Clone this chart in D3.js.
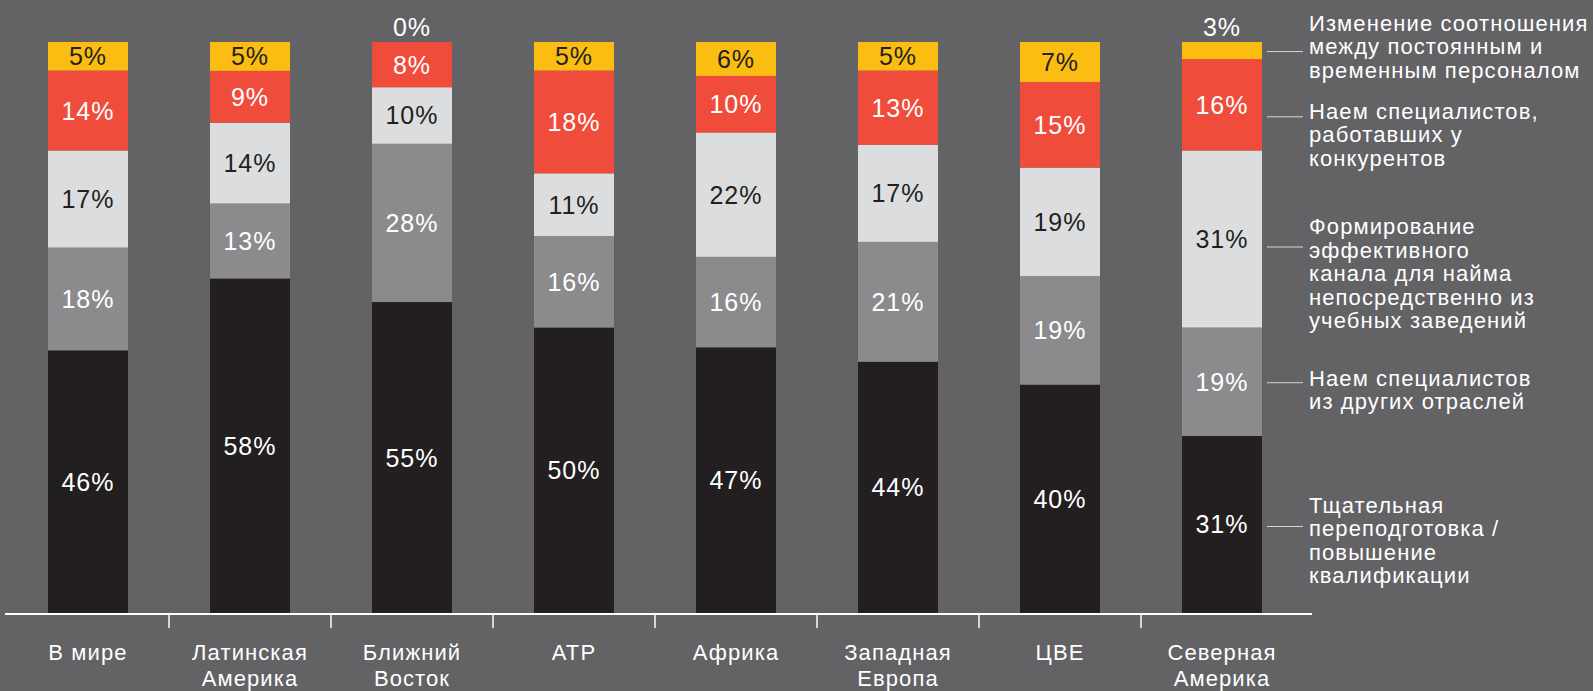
<!DOCTYPE html>
<html>
  <head>
    <meta charset="utf-8">
    <style>
      body { margin: 0; background: #636265; }
      svg { display: block; }
      text { font-family: "Liberation Sans", Arial, Helvetica, sans-serif; }
    </style>
    <script type="text/javascript" src="https://d3js.org/d3.v7.min.js"></script>
  </head>
  <body>
    <svg></svg>
    <script>
    // ---- data ----
    var regions = [
      ["В мире"],
      ["Латинская", "Америка"],
      ["Ближний", "Восток"],
      ["АТР"],
      ["Африка"],
      ["Западная", "Европа"],
      ["ЦВЕ"],
      ["Северная", "Америка"]
    ];

    // bottom to top
    var seriesKeys = ["retraining", "otherIndustries", "schools", "competitors", "staffRatio"];

    var retraining      = [46, 58, 55, 50, 47, 44, 40, 31];
    var otherIndustries = [18, 13, 28, 16, 16, 21, 19, 19];
    var schools         = [17, 14, 10, 11, 22, 17, 19, 31];
    var competitors     = [14,  9,  8, 18, 10, 13, 15, 16];
    var staffRatio      = [ 5,  5,  0,  5,  6,  5,  7,  3];

    var legendLabels = {
      staffRatio: ["Изменение соотношения", "между постоянным и", "временным персоналом"],
      competitors: ["Наем специалистов,", "работавших у", "конкурентов"],
      schools: ["Формирование", "эффективного", "канала для найма", "непосредственно из", "учебных заведений"],
      otherIndustries: ["Наем специалистов", "из других отраслей"],
      retraining: ["Тщательная", "переподготовка /", "повышение", "квалификации"]
    };

    // ---- styling ----
    var colors = {
      retraining: "#231f20",
      otherIndustries: "#8b8b8e",
      schools: "#dcdddf",
      competitors: "#ef4c3c",
      staffRatio: "#fcbd12"
    };
    var labelColors = {
      retraining: "#ffffff",
      otherIndustries: "#ffffff",
      schools: "#231f20",
      competitors: "#ffffff",
      staffRatio: "#231f20"
    };
    // leader line nudge (px) and which text line the leader points at
    var legendNudge  = { staffRatio: 1, competitors: 12, schools: 8, otherIndustries: 1, retraining: 2 };
    var legendAnchor = { staffRatio: 1.15, competitors: 0.17, schools: 0.8, otherIndustries: 0.13, retraining: 0.85 };

    var width = 1593, height = 691;

    var svg = d3.select("svg")
        .attr("width", width)
        .attr("height", height);

    svg.append("rect")
        .attr("width", width)
        .attr("height", height)
        .attr("fill", "#636265");

    var valuesByKey = {
      retraining: retraining,
      otherIndustries: otherIndustries,
      schools: schools,
      competitors: competitors,
      staffRatio: staffRatio
    };

    // table for d3.stack, each column normalised to 100
    var table = regions.map(function(r, i) {
      var row = { idx: i };
      var sum = d3.sum(seriesKeys, function(k) { return valuesByKey[k][i]; });
      seriesKeys.forEach(function(k) {
        row[k] = valuesByKey[k][i] / sum * 100;
        row[k + "_raw"] = valuesByKey[k][i];
      });
      return row;
    });

    var stacked = d3.stack().keys(seriesKeys)(table);

    var x = d3.scaleBand()
        .domain(d3.range(regions.length))
        .range([7, 1303])
        .paddingInner(82 / 162)
        .paddingOuter(41 / 162);

    var y = d3.scaleLinear()
        .domain([0, 100])
        .range([613, 42]);

    // ---- bars ----
    var layers = svg.append("g")
      .selectAll("g")
      .data(stacked)
      .enter().append("g")
        .attr("fill", function(d) { return colors[d.key]; });

    layers.selectAll("rect")
      .data(function(d) { return d; })
      .enter().append("rect")
        .attr("x", function(d, i) { return x(i); })
        .attr("y", function(d) { return y(d[1]); })
        .attr("width", x.bandwidth())
        .attr("height", function(d) { return y(d[0]) - y(d[1]); });

    // ---- value labels ----
    stacked.forEach(function(layer) {
      svg.append("g")
        .selectAll("text")
        .data(layer)
        .enter().append("text")
          .attr("x", function(d, i) { return x(i) + x.bandwidth() / 2; })
          .attr("y", function(d) {
            var raw = d.data[layer.key + "_raw"];
            if (raw < 4) return y(100) - 6;
            return (y(d[0]) + y(d[1])) / 2;
          })
          .attr("dy", function(d) { return d.data[layer.key + "_raw"] < 4 ? 0 : "0.36em"; })
          .attr("text-anchor", "middle")
          .attr("font-size", "25px")
          .attr("letter-spacing", "1px")
          .attr("fill", function(d) {
            return d.data[layer.key + "_raw"] < 4 ? "#ffffff" : labelColors[layer.key];
          })
          .text(function(d) { return d.data[layer.key + "_raw"] + "%"; });
    });

    // ---- x axis ----
    var axis = svg.append("g");
    axis.append("line")
        .attr("x1", 5).attr("x2", 1312)
        .attr("y1", 614).attr("y2", 614)
        .attr("stroke", "#ffffff")
        .attr("stroke-width", 2);

    axis.selectAll(".tick")
      .data(d3.range(1, regions.length))
      .enter().append("line")
        .attr("class", "tick")
        .attr("x1", function(d) { return x(d) - x.step() * x.paddingInner() / 2; })
        .attr("x2", function(d) { return x(d) - x.step() * x.paddingInner() / 2; })
        .attr("y1", 614).attr("y2", 628)
        .attr("stroke", "#ffffff")
        .attr("stroke-width", 1.5);

    var catLabels = axis.selectAll(".cat")
      .data(regions)
      .enter().append("text")
        .attr("class", "cat")
        .attr("text-anchor", "middle")
        .attr("font-size", "22px")
        .attr("letter-spacing", "1.1px")
        .attr("fill", "#ffffff");

    catLabels.selectAll("tspan")
      .data(function(d, i) { return d.map(function(s) { return { s: s, i: i }; }); })
      .enter().append("tspan")
        .attr("x", function(d) { return x(d.i) + x.bandwidth() / 2; })
        .attr("y", function(d, j) { return 660 + j * 26; })
        .text(function(d) { return d.s; });

    // ---- legend on the right, pointing at the last bar ----
    var last = regions.length - 1;
    var legend = svg.append("g");

    stacked.forEach(function(layer) {
      var d = layer[last];
      var ly = (y(d[0]) + y(d[1])) / 2 + legendNudge[layer.key];

      legend.append("line")
          .attr("x1", 1267).attr("x2", 1303)
          .attr("y1", ly).attr("y2", ly)
          .attr("stroke", "#d6d6d6")
          .attr("stroke-width", 1);

      legend.append("g")
        .selectAll("text")
        .data(legendLabels[layer.key])
        .enter().append("text")
          .attr("x", 1309)
          .attr("y", function(s, j) { return ly + (j - legendAnchor[layer.key]) * 23.5 + 6; })
          .attr("font-size", "22px")
          .attr("letter-spacing", "1.1px")
          .attr("fill", "#ffffff")
          .text(function(s) { return s; });
    });
    </script>
  </body>
</html>
